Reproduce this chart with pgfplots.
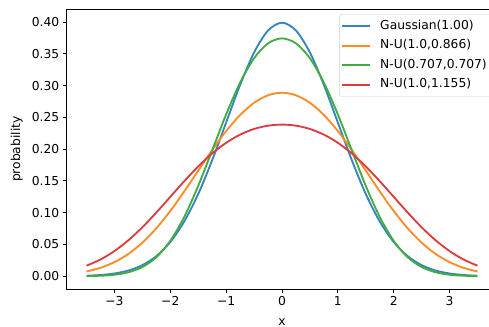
\documentclass[border=0pt]{standalone}
\usepackage{fontspec}
\setmainfont{DejaVu Sans}
\usepackage{pgfplots}
\pgfplotsset{compat=1.18}
\usepackage{pgfplotstable}
\definecolor{C0}{HTML}{3585BC}
\definecolor{C1}{HTML}{FF8B27}
\definecolor{C2}{HTML}{41AC41}
\definecolor{C3}{HTML}{DB3E3E}
\newcommand{\fs}{\fontsize{12.3bp}{14.8bp}\selectfont}
\pgfplotstableread{
x g nua nub nuc
-3.5 0.00087 0.00758 0.00026 0.01670
-3.25 0.00203 0.01335 0.00085 0.02641
-3 0.00443 0.02227 0.00246 0.03967
-2.75 0.00909 0.03521 0.00633 0.05666
-2.5 0.01753 0.05288 0.01456 0.07714
-2.25 0.03174 0.07551 0.03002 0.10032
-2 0.05399 0.10277 0.05571 0.12499
-1.75 0.08628 0.13357 0.09340 0.14966
-1.5 0.12952 0.16622 0.14227 0.17281
-1.25 0.18265 0.19858 0.19821 0.19320
-1 0.24197 0.22842 0.25470 0.21000
-0.75 0.30114 0.25372 0.30472 0.22284
-0.5 0.35207 0.27286 0.34291 0.23175
-0.25 0.38667 0.28476 0.36639 0.23693
0 0.39894 0.28879 0.37425 0.23863
0.25 0.38667 0.28476 0.36639 0.23693
0.5 0.35207 0.27286 0.34291 0.23175
0.75 0.30114 0.25372 0.30472 0.22284
1 0.24197 0.22842 0.25470 0.21000
1.25 0.18265 0.19858 0.19821 0.19320
1.5 0.12952 0.16622 0.14227 0.17281
1.75 0.08628 0.13357 0.09340 0.14966
2 0.05399 0.10277 0.05571 0.12499
2.25 0.03174 0.07551 0.03002 0.10032
2.5 0.01753 0.05288 0.01456 0.07714
2.75 0.00909 0.03521 0.00633 0.05666
3 0.00443 0.02227 0.00246 0.03967
3.25 0.00203 0.01335 0.00085 0.02641
3.5 0.00087 0.00758 0.00026 0.01670
}\data
\begin{document}
\begin{tikzpicture}
\path[use as bounding box, clip] (-67bp,-38bp) rectangle (422bp,289bp);
\begin{axis}[
  at={(0,0)}, anchor=south west,
  scale only axis, width=430bp, height=279.7bp,
  xmin=-3.85, xmax=3.85, ymin=-0.02, ymax=0.42,
  xtick={-3,-2,-1,0,1,2,3},
  xticklabels={−3,−2,−1,0,1,2,3},
  ytick={0,0.05,0.10,0.15,0.20,0.25,0.30,0.35,0.40},
  scaled y ticks=false,
  /pgf/number format/assume math mode=true,
  yticklabel style={/pgf/number format/fixed, /pgf/number format/fixed zerofill, /pgf/number format/precision=2},
  ticklabel style={font=\fs},
  tick align=outside, major tick length=4.3bp,
  xtick pos=left, ytick pos=left,
  tick style={line width=1bp, black},
  axis line style={line width=1bp},
  xlabel={x}, ylabel={probability},
  label style={font=\fs},
  xlabel style={at={(axis description cs:0.5,-0.1169)}, anchor=center},
  ylabel style={at={(axis description cs:-0.117,0.5)}, anchor=center},
  legend style={at={(1,1)}, anchor=north east, xshift=-5bp, yshift=-5bp,
    draw=black!20, rounded corners=2.5bp, fill=white,
    font=\fs, inner xsep=2bp, inner ysep=2bp, row sep=0bp,
    cells={anchor=west},
    nodes={inner xsep=3bp, inner ysep=3.5bp, text height=9.5bp, text depth=3bp}},
  legend image code/.code={\draw[#1] (0bp,0bp) -- (28bp,0bp); \path (34bp,0bp);},
  every axis plot/.append style={line width=1.85bp, smooth},
]
\addplot[C0] table[x=x, y=g] {\data};
\addlegendentry{Gaussian(1.00)}
\addplot[C1] table[x=x, y=nua] {\data};
\addlegendentry{N-U(1.0,0.866)}
\addplot[C2] table[x=x, y=nub] {\data};
\addlegendentry{N-U(0.707,0.707)}
\addplot[C3] table[x=x, y=nuc] {\data};
\addlegendentry{N-U(1.0,1.155)}
\end{axis}
\end{tikzpicture}
\end{document}
